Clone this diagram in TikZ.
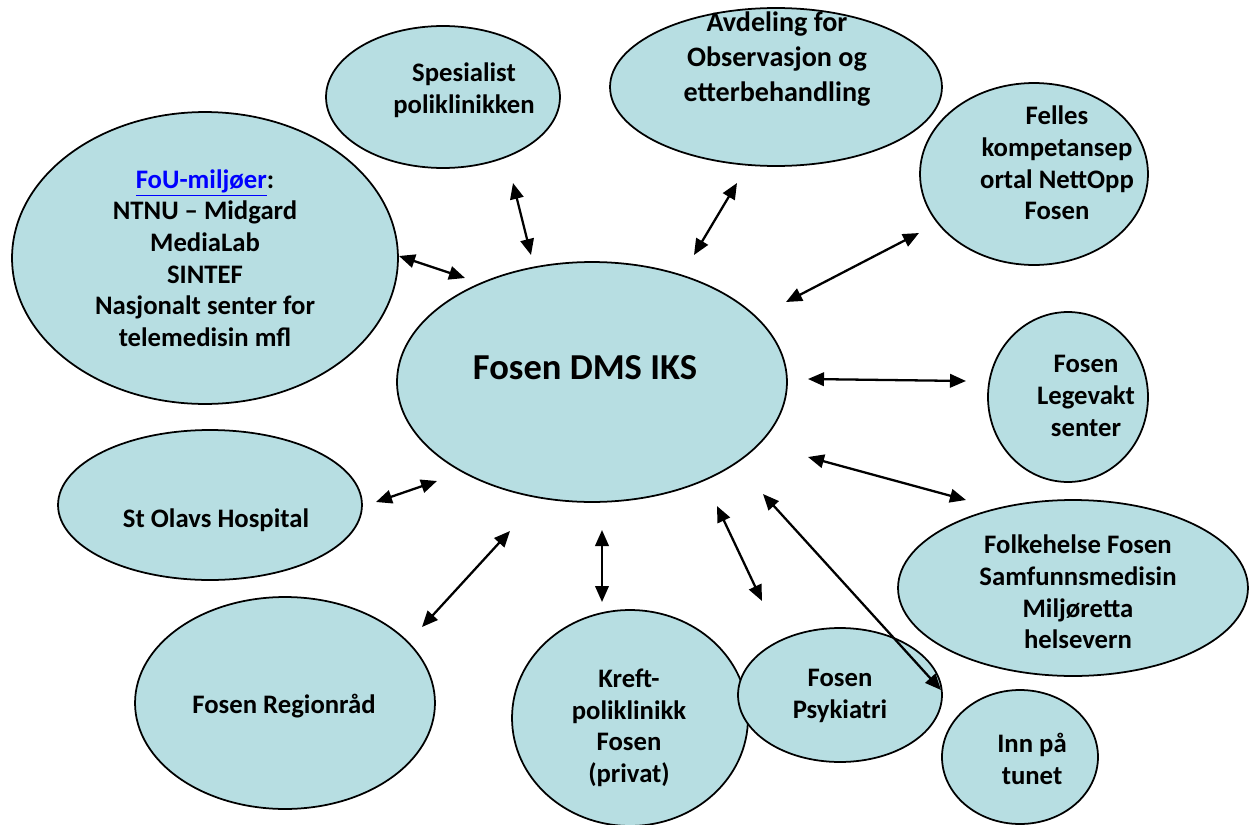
\documentclass[tikz,border=0pt]{standalone}
\usepackage{fontspec}
\setmainfont{Carlito}
\usetikzlibrary{shapes.geometric,arrows.meta}
\definecolor{bubble}{RGB}{183,222,226}
\definecolor{linkblue}{RGB}{0,0,255}
\tikzset{
  bub/.style={ellipse,draw=black,line width=1pt,fill=bubble,inner sep=0pt},
  txt/.style={align=center,font=\bfseries\fontsize{15.2}{18}\selectfont,inner sep=0pt},
  link/.style={{Triangle[length=0.32cm,width=0.27cm]}-{Triangle[length=0.32cm,width=0.27cm]},line width=1.3pt}
}
\begin{document}
\begin{tikzpicture}[x=0.02cm,y=-0.02cm]
\useasboundingbox (0,0) rectangle (1249,825);
% bubbles
\node[bub,minimum width=7.8cm,minimum height=4.8cm] (main) at (592,382) {};
\node[bub,minimum width=4.68cm,minimum height=2.84cm] (spes) at (443,97) {};
\node[bub,minimum width=6.64cm,minimum height=3.16cm] (avd) at (776,87) {};
\node[bub,minimum width=4.56cm,minimum height=3.64cm] (felles) at (1034,174) {};
\node[bub,minimum width=7.72cm,minimum height=5.84cm] (fou) at (205,258) {};
\node[bub,minimum width=3.2cm,minimum height=3.4cm] (lege) at (1068,397) {};
\node[bub,minimum width=6.08cm,minimum height=3.0cm] (olav) at (210,505) {};
\node[bub,minimum width=7.0cm,minimum height=3.52cm] (folke) at (1073,588) {};
\node[bub,minimum width=6.0cm,minimum height=4.24cm] (region) at (285,703) {};
\node[bub,minimum width=4.72cm,minimum height=4.32cm] (kreft) at (630,718) {};
\node[bub,minimum width=4.08cm,minimum height=2.68cm] (psyk) at (840,695) {};
\node[bub,minimum width=3.12cm,minimum height=2.68cm] (tunet) at (1020,757) {};
% texts
\node[txt,font=\bfseries\fontsize{20.8}{24}\selectfont] (tmain) at (585,368) {Fosen DMS IKS};
\node[txt] (tspes) at (464,90) {Spesialist\\poliklinikken};
\node[txt,font=\bfseries\fontsize{16}{19.9}\selectfont] (tavd) at (777,59) {Avdeling for\\Observasjon og\\etterbehandling};
\node[txt] (tfelles) at (1057,163) {Felles\\kompetansep\\ortal NettOpp\\Fosen};
\node[txt] (tfou) at (205,258) {\textcolor{linkblue}{\underline{FoU-miljøer}}:\\NTNU – Midgard\\MediaLab\\SINTEF\\Nasjonalt senter for\\telemedisin mfl};
\node[txt] (tlege) at (1086,396) {Fosen\\Legevakt\\senter};
\node[txt] (tolav) at (216,520) {St Olavs Hospital};
\node[txt] (tfolke) at (1078,592) {Folkehelse Fosen\\Samfunnsmedisin\\Miljøretta\\helsevern};
\node[txt] (tregion) at (284,706) {Fosen Regionråd};
\node[txt] (tkreft) at (629,728) {Kreft-\\poliklinikk\\Fosen\\(privat)};
\node[txt] (tpsyk) at (840,696) {Fosen\\Psykiatri};
\node[txt] (ttunet) at (1032,759) {Inn på\\tunet};
% arrow ends
\coordinate (a1) at (513,183); \coordinate (b1) at (531,255);
\coordinate (a2) at (737,183); \coordinate (b2) at (694,255);
\coordinate (a3) at (919,233); \coordinate (b3) at (786,302);
\coordinate (a4) at (399,256); \coordinate (b4) at (465,278);
\coordinate (a5) at (808,379); \coordinate (b5) at (966,381);
\coordinate (a6) at (376,502); \coordinate (b6) at (437,481);
\coordinate (a7) at (808,457); \coordinate (b7) at (966,500);
\coordinate (a8) at (422,627); \coordinate (b8) at (510,531);
\coordinate (a9) at (602,530); \coordinate (b9) at (602,602);
\coordinate (a10) at (717,506); \coordinate (b10) at (762,601);
\coordinate (a11) at (763,494); \coordinate (b11) at (941,690);
\foreach \i in {1,...,11} {\draw[link] (a\i) -- (b\i);}
\end{tikzpicture}
\end{document}
